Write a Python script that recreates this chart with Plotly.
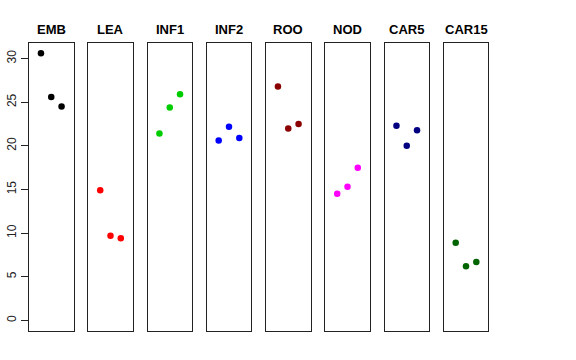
import plotly.graph_objects as go

categories = ["EMB", "LEA", "INF1", "INF2", "ROO", "NOD", "CAR5", "CAR15"]
replicates = [1, 2, 3]
values = {
    "EMB": [30.6, 25.6, 24.5],
    "LEA": [14.9, 9.7, 9.4],
    "INF1": [21.4, 24.4, 25.9],
    "INF2": [20.6, 22.2, 20.9],
    "ROO": [26.8, 22.0, 22.5],
    "NOD": [14.5, 15.3, 17.5],
    "CAR5": [22.3, 20.0, 21.8],
    "CAR15": [8.9, 6.2, 6.7],
}
colors = ["#000000", "#FF0000", "#00CD00", "#0000FF", "#8B0000", "#FF00FF", "#000080", "#006400"]
y_ticks = [0, 5, 10, 15, 20, 25, 30]

W, H = 576, 360
left0, pw, pitch = 29.0, 44.5, 59.25
y_lo, y_hi = (H - 331) / H, (H - 42.7) / H
yrange = [-1.22, 31.82]
xrange = [-0.16, 4.16]

fig = go.Figure()
layout = dict(
    width=W, height=H, margin=dict(l=0, r=0, t=0, b=0, autoexpand=False),
    plot_bgcolor="white", paper_bgcolor="white", showlegend=False,
    font=dict(family="Liberation Sans, Arial, sans-serif", color="black"),
)
annotations = []
for i, (cat, col) in enumerate(zip(categories, colors)):
    n = "" if i == 0 else str(i + 1)
    x0 = (left0 + i * pitch) / W
    x1 = (left0 + i * pitch + pw) / W
    fig.add_trace(go.Scatter(
        x=replicates, y=values[cat], mode="markers",
        marker=dict(color=col, size=6.5, line=dict(width=0)),
        xaxis="x" + n, yaxis="y" + n, hoverinfo="y",
    ))
    layout["xaxis" + n] = dict(
        domain=[x0, x1], range=xrange, anchor="y" + n, automargin=False,
        showticklabels=False, ticks="", showgrid=False, zeroline=False,
        showline=True, mirror=True, linecolor="#222222", linewidth=1,
    )
    yax = dict(
        domain=[y_lo, y_hi], range=yrange, anchor="x" + n, automargin=False,
        showgrid=False, zeroline=False,
        showline=True, mirror=True, linecolor="#222222", linewidth=1,
    )
    if i == 0:
        yax.update(tickvals=y_ticks, ticktext=[str(t) for t in y_ticks],
                   ticks="outside", ticklen=7, tickcolor="#222222",
                   tickangle=-90, tickfont=dict(size=12, color="#222222"))
    else:
        yax.update(showticklabels=False, ticks="")
    layout["yaxis" + n] = yax
    annotations.append(dict(
        text="<b>" + cat + "</b>", xref="x" + n + " domain", yref="paper",
        x=0.5, y=(H - 29) / H, showarrow=False, yanchor="middle",
        font=dict(size=13, color="black"),
    ))
layout["annotations"] = annotations
fig.update_layout(**layout)
fig.write_html("out.html", config={"displayModeBar": False},
               post_script="document.body.style.margin='0';")
